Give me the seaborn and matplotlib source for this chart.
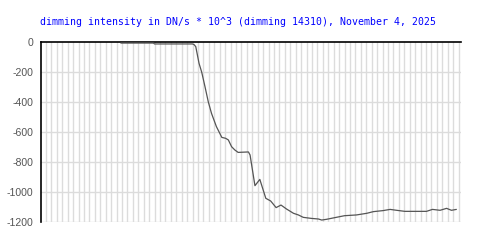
import matplotlib
matplotlib.use("Agg")
import matplotlib.pyplot as plt
import seaborn as sns
import pandas as pd
import numpy as np

# time axis in grid units (one unit per vertical grid line)
time_units = [14.8, 20.8, 21.0, 28.0, 28.3, 28.6, 29.2, 29.7, 30.3, 30.9, 31.5,
              32.4, 33.4, 34.1, 34.6, 35.2, 35.8, 36.4, 38.3, 38.6, 39.5, 40.4,
              41.5, 42.4, 43.4, 44.3, 45.3, 46.6, 47.5, 48.4, 49.9, 51.2, 51.8,
              52.7, 54.2, 56.0, 58.2, 60.1, 61.3, 63.1, 64.4, 65.6, 67.1, 71.1,
              72.2, 73.6, 74.8, 75.7, 76.6]
dimming = [-7, -7, -13, -13, -18, -31, -142, -202, -298, -398, -476,
           -564, -636, -642, -653, -698, -720, -736, -733, -753, -958, -916,
           -1042, -1060, -1104, -1087, -1113, -1142, -1153, -1169, -1176, -1180, -1187,
           -1182, -1171, -1158, -1153, -1142, -1131, -1124, -1116, -1122, -1129, -1129,
           -1116, -1122, -1109, -1122, -1116]
y_ticks = [0, -200, -400, -600, -800, -1000, -1200]
title = "dimming intensity in DN/s * 10^3 (dimming 14310), November 4, 2025"

sns.set_style("white")
plt.rcParams['axes.unicode_minus'] = False

df = pd.DataFrame({"t": time_units, "v": dimming})

fig = plt.figure(figsize=(5, 2.5), dpi=100)
ax = fig.add_axes([0.081, 0.112, 0.8404, 0.72])

# grid
for k in range(1, 78):
    ax.axvline(k, color="#dcdcdc", lw=1.0, zorder=0)
for yv in y_ticks[1:]:
    ax.axhline(yv, color="#dcdcdc", lw=1.0, zorder=0)

sns.lineplot(data=df, x="t", y="v", ax=ax, color="#555555", lw=0.9,
             estimator=None, sort=False, zorder=3)

ax.set_xlim(0, 77.4)
ax.set_ylim(-1200, 0)
ax.set_xticks([])
ax.set_yticks(y_ticks)
ax.set_yticklabels([str(v) for v in y_ticks], fontsize=7.6, color="#555555",
                   family="Liberation Sans")
ax.tick_params(axis="y", length=0, pad=5)
ax.set_xlabel("")
ax.set_ylabel("")

for s in ["right", "bottom"]:
    ax.spines[s].set_visible(False)
ax.spines["top"].set_color("black")
ax.spines["left"].set_color("black")
ax.spines["top"].set_linewidth(1.2)
ax.spines["left"].set_linewidth(1.2)

ax.set_title(title, loc="left", fontsize=7.15, color="#0000ff",
             family="DejaVu Sans Mono", pad=12)

fig.savefig("out.png", dpi=100)
